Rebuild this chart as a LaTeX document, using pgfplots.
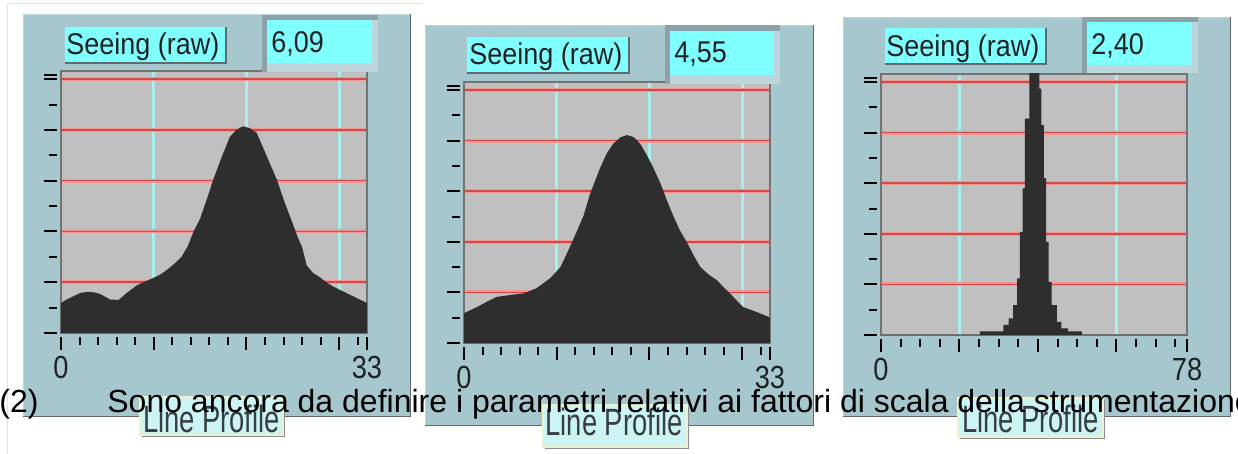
\documentclass[border=0pt]{standalone}
\usepackage{pgfplots}
\pgfplotsset{compat=1.18}
\usepackage{fontspec}
\setmainfont{Liberation Sans}
\newfontfamily\ms[FakeStretch=0.9]{Liberation Sans}
\newfontfamily\mst[FakeStretch=0.85]{Liberation Sans}
\definecolor{framec}{RGB}{167,199,206}
\definecolor{framelight}{RGB}{188,214,220}
\definecolor{bevel}{RGB}{138,162,168}
\definecolor{edgedark}{RGB}{95,105,110}
\definecolor{plotbg}{RGB}{192,192,192}
\definecolor{gridred}{RGB}{212,72,72}
\definecolor{gridpink}{RGB}{242,150,150}
\definecolor{gridcyan}{RGB}{168,240,240}
\definecolor{profile}{RGB}{46,46,46}
\definecolor{boxcyan}{RGB}{128,255,255}
\definecolor{btnfill}{RGB}{204,244,244}
\definecolor{btnedge}{RGB}{234,242,206}
\definecolor{labelc}{RGB}{30,34,36}
\definecolor{btntext}{RGB}{55,62,64}
\definecolor{winline}{RGB}{216,230,242}

\pgfplotsset{profile/.style={
  scale only axis, width=153pt,
  xmin=0, ymin=0, ymax=5.16,
  axis background/.style={fill=plotbg},
  axis line style={draw=black!55, line width=0.6pt},
  tick align=outside, tick pos=left,
  major tick length=6.5pt, minor tick length=4pt,
  tick style={black, line width=1pt},
  xtick style={yshift=-2pt},
  ytick style={xshift=-2pt},
  xmajorgrids, ymajorgrids,
  x grid style={gridcyan, line width=1.4pt},
  y grid style={gridred, line width=0.8pt, preaction={draw=gridpink, line width=2pt}},
  ytick={1,2,3,4,5}, yticklabels={,,,,,},
  minor ytick={0.5,1.5,2.5,3.5,4.5},
  extra y ticks={0,5.08}, extra y tick labels={,},
  extra y tick style={grid=none},
  extra x tick style={grid=none},
  xticklabels={,,,},
  xticklabel shift=5pt,
  xticklabel style={font=\mst\fontsize{16}{16}\selectfont, text=labelc, inner sep=0pt, anchor=north},
}}

\begin{document}
\begin{tikzpicture}
% ---------- background decorations (pixel units) ----------
\begin{scope}[x=0.5pt,y=-0.5pt]
\path[use as bounding box, fill=white] (0,0) rectangle (1238,454);
\draw[winline, line width=0.5pt] (7,454) -- (7,4) -- (423,4);
% panel frames
\fill[framec] (23,14) rectangle (411,417);
\draw[edgedark, line width=0.8pt] (410.5,14) -- (410.5,416.5) -- (23,416.5);
\draw[framelight, line width=0.6pt] (23.5,416) -- (23.5,14.5) -- (410,14.5);
\fill[framec] (425,25) rectangle (814,426);
\draw[edgedark, line width=0.8pt] (813.5,25) -- (813.5,425.5) -- (425,425.5);
\draw[framelight, line width=0.6pt] (425.5,425) -- (425.5,25.5) -- (813,25.5);
\fill[framec] (843,17) rectangle (1231,417);
\draw[edgedark, line width=0.8pt] (1230.5,17) -- (1230.5,416.5) -- (843,416.5);
\draw[framelight, line width=0.6pt] (843.5,416) -- (843.5,17.5) -- (1230,17.5);
\end{scope}

% ---------- panel 1 ----------
\begin{axis}[profile, at={(30.5pt,-166.5pt)}, anchor=south west, height=131pt,
  xmax=33, xtick={10,20,30},
  minor xtick={2,4,6,8,12,14,16,18,22,24,26,28,32},
  extra x ticks={0,33}, extra x tick labels={0,33}]
\addplot[fill=profile, draw=none] coordinates {
 (0,0.59) (0.6,0.66) (1.3,0.72) (2.1,0.79) (2.9,0.81) (3.6,0.80) (4.2,0.77)
 (4.8,0.71) (5.3,0.66) (6.2,0.65) (7.1,0.79) (8.2,0.94) (9.0,1.01) (9.9,1.08)
 (10.7,1.15) (11.4,1.24) (12.2,1.36) (13.0,1.50) (13.7,1.72) (14.3,2.00)
 (15.0,2.25) (15.7,2.62) (16.4,3.01) (17.3,3.45) (18.2,3.86) (18.9,4.00)
 (19.6,4.07) (20.3,4.04) (21.1,3.94) (21.8,3.65) (22.5,3.35) (23.3,3.01)
 (24.1,2.58) (25.0,2.15) (25.5,1.90) (26.0,1.69) (26.5,1.33) (27.2,1.18)
 (27.9,1.10) (28.6,1.00) (29.4,0.91) (30.3,0.83) (31.2,0.75) (32.1,0.67) (33,0.59)
} \closedcycle;
\end{axis}

% ---------- panel 2 ----------
\begin{axis}[profile, at={(232pt,-171.5pt)}, anchor=south west, height=130.5pt,
  xmax=33, xtick={10,20,30},
  minor xtick={2,4,6,8,12,14,16,18,22,24,26,28,32},
  extra x ticks={0,33}, extra x tick labels={0,33}]
\addplot[fill=profile, draw=none] coordinates {
 (0,0.59) (1.4,0.71) (2.5,0.82) (3.5,0.91) (5.0,0.95) (6.4,0.98) (7.8,1.08)
 (9.3,1.28) (10.4,1.50) (11.4,1.89) (12.2,2.22) (12.9,2.52) (13.6,2.95)
 (14.7,3.47) (15.4,3.75) (16.1,3.94) (16.9,4.07) (17.6,4.11) (18.3,4.07)
 (19.0,3.94) (19.7,3.72) (20.4,3.47) (21.2,3.15) (21.9,2.81) (22.6,2.50)
 (23.3,2.22) (24.1,1.97) (24.8,1.72) (25.5,1.50) (26.4,1.35) (27.3,1.24)
 (28.0,1.10) (28.7,0.98) (29.4,0.84) (30.1,0.71) (31.6,0.61) (32.8,0.52) (33,0.50)
} \closedcycle;
\end{axis}

% ---------- panel 3 ----------
\begin{axis}[profile, at={(440.5pt,-167.5pt)}, anchor=south west, height=130.5pt,
  xmax=78, xtick={20,40,60},
  minor xtick={5,10,15,25,30,35,45,50,55,65,70,75},
  extra x ticks={0,78}, extra x tick labels={0,78}]
\addplot[const plot mark left, fill=profile, draw=none] coordinates {
 (0,0) (25.2,0.07) (31.2,0.20) (32.5,0.33) (33.7,0.59) (34.7,1.12) (35.4,2.04)
 (36.1,2.90) (36.7,4.28) (37.8,5.40) (40.4,4.87) (40.9,4.15) (41.5,3.10)
 (42.1,1.84) (42.7,1.05) (43.5,0.59) (44.8,0.26) (46.0,0.13) (47.7,0.07)
 (51.2,0) (78,0)
} \closedcycle;
\end{axis}

% ---------- foreground widgets and text ----------
\begin{scope}[x=0.5pt,y=-0.5pt]
\clip (0,0) rectangle (1238,454);
\tikzset{ttl/.style={anchor=base west, inner sep=0pt, text=labelc, font=\ms\fontsize{15}{15}\selectfont}}
% panel 1 boxes
\fill[boxcyan] (65,27) rectangle (227,64);
\draw[edgedark, line width=1pt] (226,27) -- (226,63) -- (65,63);
\node[ttl] at (66,55) {Seeing (raw)};
\fill[framelight] (262,15) rectangle (378,72);
\fill[bevel] (262,15) rectangle (378,20);
\fill[bevel] (262,15) rectangle (267,72);
\fill[boxcyan] (267,20) rectangle (372,63);
\node[ttl] at (271,53) {6,09};
% panel 2 boxes
\fill[boxcyan] (467,37) rectangle (630,74);
\draw[edgedark, line width=1pt] (629,37) -- (629,73) -- (467,73);
\node[ttl] at (469,65) {Seeing (raw)};
\fill[framelight] (665,25) rectangle (780,84);
\fill[bevel] (665,25) rectangle (780,31);
\fill[bevel] (665,25) rectangle (670,84);
\fill[boxcyan] (670,31) rectangle (774,75);
\node[ttl] at (674,63) {4,55};
% panel 3 boxes
\fill[boxcyan] (885,28) rectangle (1047,65);
\draw[edgedark, line width=1pt] (1046,28) -- (1046,64) -- (885,64);
\node[ttl] at (886,57) {Seeing (raw)};
\fill[framelight] (1082,17) rectangle (1198,73);
\fill[bevel] (1082,17) rectangle (1198,22);
\fill[bevel] (1082,17) rectangle (1087,73);
\fill[boxcyan] (1087,22) rectangle (1192,65);
\node[ttl] at (1091,55) {2,40};
% Line Profile buttons
\tikzset{btn/.style={fill=btnfill, draw=btnedge, line width=1pt},
  btnt/.style={anchor=base, inner sep=0pt, text=btntext, font=\fontsize{19}{19}\selectfont}}
\fill[black!45] (142,399) rectangle (285,437);
\path[btn] (140,397) rectangle (283,435);
\node[btnt] at (211.5,432) {\scalebox{0.72}[1]{Line Profile}};
\fill[black!45] (545,407) rectangle (689,449);
\path[btn] (543,405) rectangle (687,447);
\node[btnt] at (614,436) {\scalebox{0.72}[1]{Line Profile}};
\fill[black!45] (960,400) rectangle (1105,439);
\path[btn] (958,398) rectangle (1103,437);
\node[btnt] at (1030.5,433) {\scalebox{0.72}[1]{Line Profile}};
% overlaid caption text
\tikzset{captxt/.style={anchor=base west, inner sep=0pt, text=black, font=\fontsize{16}{16}\selectfont}}
\node[captxt] at (-1,413) {(2)};
\node[captxt] at (107,413) {Sono ancora da definire i parametri relativi ai fattori di scala della strumentazione};
\end{scope}
\end{tikzpicture}
\end{document}
